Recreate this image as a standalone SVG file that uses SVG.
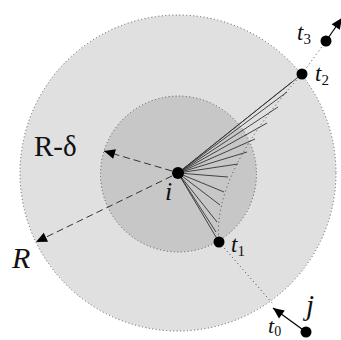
<svg xmlns="http://www.w3.org/2000/svg" width="341" height="340" viewBox="0 0 341 340">
<defs>
<style>
.ring{stroke:#555;stroke-width:1;stroke-dasharray:1 2.5}
.dot{fill:#000}
.dash{fill:none;stroke:#333;stroke-width:1;stroke-dasharray:7 4}
.dotted{fill:none;stroke:#444;stroke-width:1;stroke-dasharray:1 3}
.fan{stroke:#333;stroke-width:0.9}
.solid{fill:none;stroke:#000;stroke-width:1.2}
text{font-family:'Liberation Serif','DejaVu Serif',serif;fill:#111}
.it{font-style:italic}
</style>
<marker id="ah2" viewBox="0 0 10 10" refX="10" refY="5" markerWidth="14" markerHeight="11" markerUnits="userSpaceOnUse" orient="auto">
<path d="M0,0.5 L10,5 L0,9.5 Z" fill="#000"/>
</marker>
</defs>
<g id="outer-region">
<circle cx="178" cy="173" r="158" fill="#e0e0e0" class="ring"/>
</g>
<g id="inner-region">
<circle cx="178.5" cy="174" r="78" fill="#c7c7c7" class="ring"/>
</g>
<g id="connectors">
<path class="dotted" d="M302,74 Q211.5,174 219,242"/>
<path class="dotted" d="M219,242 L273,304"/>
<path class="dotted" d="M302,74 L326,41"/>
<g class="fan">
<line x1="178" y1="173" x2="302" y2="74"/>
<line x1="178" y1="173" x2="292" y2="82"/>
<line x1="178" y1="173" x2="287" y2="92"/>
<line x1="178" y1="173" x2="278" y2="107"/>
<line x1="178" y1="173" x2="267" y2="123"/>
<line x1="178" y1="173" x2="255" y2="139"/>
<line x1="178" y1="173" x2="247" y2="152"/>
<line x1="178" y1="173" x2="238" y2="164"/>
<line x1="178" y1="173" x2="228" y2="177"/>
<line x1="178" y1="173" x2="224" y2="192"/>
<line x1="178" y1="173" x2="220" y2="205"/>
<line x1="178" y1="173" x2="217" y2="222"/>
<line x1="178" y1="173" x2="216" y2="232"/>
<line x1="178" y1="173" x2="219" y2="242"/>
</g>
<path class="dash" d="M172,171 L104,151" marker-end="url(#ah2)"/>
<path class="dash" d="M172,176 L36,242" marker-end="url(#ah2)"/>
<path class="solid" d="M306,332 L273,308" marker-end="url(#ah2)"/>
<path class="solid" d="M326,41 L342,18" marker-end="url(#ah2)"/>
</g>
<g id="node-i">
<circle class="dot" cx="178" cy="173" r="6"/>
<text class="it" x="165" y="200" font-size="26" font-family="'Liberation Serif','DejaVu Serif',serif">i</text>
</g>
<g id="node-t1">
<circle class="dot" cx="219" cy="242" r="5.5"/>
<text class="it" x="231" y="252" font-size="23" font-family="'Liberation Serif','DejaVu Serif',serif">t<tspan font-size="15" font-style="normal" dy="4">1</tspan></text>
</g>
<g id="node-t2">
<circle class="dot" cx="302" cy="74" r="5.5"/>
<text class="it" x="315" y="81" font-size="23" font-family="'Liberation Serif','DejaVu Serif',serif">t<tspan font-size="15" font-style="normal" dy="4">2</tspan></text>
</g>
<g id="node-t3">
<circle class="dot" cx="326" cy="41" r="5.5"/>
<text class="it" x="297" y="40" font-size="23" font-family="'Liberation Serif','DejaVu Serif',serif">t<tspan font-size="15" font-style="normal" dy="4">3</tspan></text>
</g>
<g id="node-j">
<circle class="dot" cx="306" cy="332" r="5.5"/>
<text class="it" x="306" y="315" font-size="29" font-family="'Liberation Serif','DejaVu Serif',serif">j</text>
<text class="it" x="268" y="333" font-size="22" font-family="'Liberation Serif','DejaVu Serif',serif">t<tspan font-size="14" font-style="normal" dy="3">0</tspan></text>
</g>
<g id="labels">
<text x="34" y="156" font-size="29" font-family="'Liberation Serif','DejaVu Serif',serif">R-δ</text>
<text class="it" x="12" y="268" font-size="30" font-family="'Liberation Serif','DejaVu Serif',serif">R</text>
</g>
</svg>
